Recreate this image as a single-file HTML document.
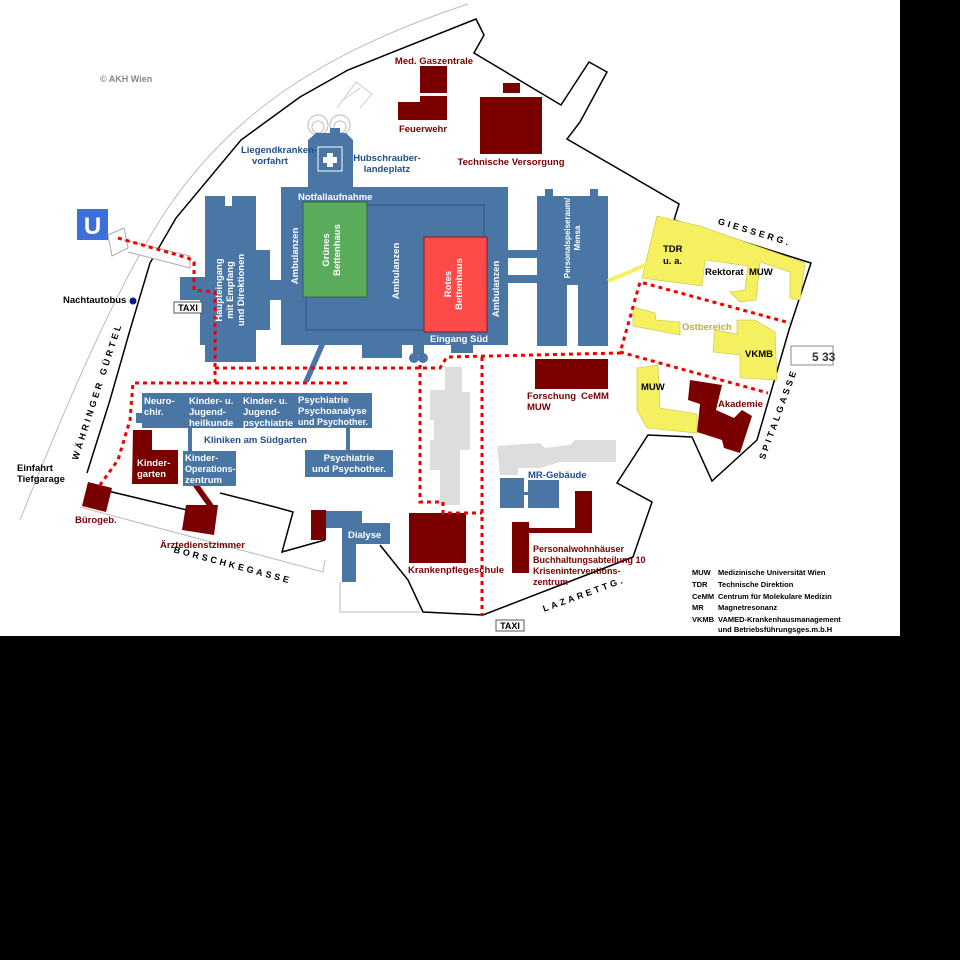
<!DOCTYPE html>
<html><head><meta charset="utf-8"><style>
body{margin:0;background:#000;}
svg{display:block;}
text{font-family:"Liberation Sans",sans-serif;font-weight:bold;}
</style></head><body>
<svg width="960" height="960" viewBox="0 0 960 960" xmlns="http://www.w3.org/2000/svg">
<rect x="0" y="0" width="960" height="960" fill="#000"/>
<rect x="0" y="0" width="900" height="636" fill="#fff"/>

<path d="M468,4 C330,50 230,110 160,220 C110,300 60,420 20,520" fill="none" stroke="#bbb" stroke-width="1"/>
<path d="M80,507 L323,572 L325,560" fill="none" stroke="#bbb" stroke-width="1"/>
<path d="M340,582 L340,612 L420,612" fill="none" stroke="#bbb" stroke-width="1"/>
<path d="M337,108 L356,82 L372,94 L360,108 M343,100 L360,88" fill="none" stroke="#ccc" stroke-width="1"/>
<circle cx="318" cy="125" r="10" fill="none" stroke="#bbb"/><circle cx="340" cy="125" r="10" fill="none" stroke="#bbb"/>
<circle cx="318" cy="127" r="6" fill="none" stroke="#bbb"/><circle cx="340" cy="127" r="6" fill="none" stroke="#bbb"/>

<path d="M130,330 L150,263 L176,218 L241,140 L300,97 L348,70 L476,19 L484,35 L474,53 L561,105 L589,62 L607,72 L580,122 L567,139 L679,204 L674,220 L811,263 L789,330 L757,440 L712,481 L692,437 L648,435 L617,483 L652,502 L633,557 L483,615 L423,612 L408,580 L380,545" fill="none" stroke="#000" stroke-width="1.5"/>
<path d="M130,330 L110,400 L87,473" fill="none" stroke="#000" stroke-width="1.5"/>
<path d="M108,491 L187,510 L185,527 M220,493 L275,507 L293,512 L282,552 L325,540" fill="none" stroke="#000" stroke-width="1.5"/>

<path d="M108,235 L124,228 L128,248 L112,256 Z M124,240 L190,256 L190,268 L128,252" fill="#fff" stroke="#aaa" stroke-width="1"/>
<rect x="77" y="209" width="31" height="31" fill="#3c6fd8"/>
<text x="92.5" y="234" font-size="24" fill="#fff" text-anchor="middle">U</text>

<g fill="#4a76a6">
<path d="M205,196 L225,196 L225,206 L232,206 L232,196 L256,196 L256,250 L270,250 L270,330 L256,330 L256,362 L205,362 L205,345 L200,345 L200,300 L180,300 L180,277 L205,277 Z"/>
<rect x="270" y="280" width="14" height="20"/>
<rect x="281" y="187" width="227" height="158"/>
<path d="M308,180 L308,140 L316,133 L330,133 L330,128 L340,128 L340,133 L346,133 L353,140 L353,180 Z"/>
<rect x="308" y="179" width="45" height="9"/>
<rect x="362" y="345" width="40" height="13"/>
<rect x="413" y="345" width="11" height="10"/><circle cx="414" cy="358" r="5"/><circle cx="423" cy="358" r="5"/>
<rect x="451" y="345" width="22" height="8"/>
<path d="M319,345 L325,345 L309,382 L303,382 Z"/>
<path d="M537,196 L545,196 L545,189 L553,189 L553,196 L590,196 L590,189 L598,189 L598,196 L608,196 L608,346 L578,346 L578,285 L567,285 L567,346 L537,346 Z"/>
<rect x="508" y="250" width="30" height="8"/>
<rect x="508" y="275" width="30" height="8"/>
<rect x="142" y="393" width="230" height="35"/>
<rect x="136" y="413" width="8" height="10"/>
<rect x="188" y="427" width="4" height="25"/>
<rect x="346" y="427" width="4" height="25"/>
<rect x="183" y="451" width="53" height="35"/>
<rect x="305" y="450" width="88" height="27"/>
<rect x="325" y="511" width="37" height="17"/>
<rect x="342" y="522" width="14" height="60"/>
<rect x="355" y="523" width="35" height="21"/>
<rect x="500" y="478" width="24" height="30"/>
<rect x="528" y="480" width="31" height="28"/>
<rect x="522" y="492" width="8" height="3"/>
</g>
<rect x="306" y="205" width="178" height="125" fill="none" stroke="#2f5680" stroke-width="1"/>
<rect x="303" y="202" width="64" height="95" fill="#5aac5c" stroke="#2f5a30" stroke-width="0.8"/>
<rect x="424" y="237" width="63" height="95" fill="#ff4a4a" stroke="#7a1010" stroke-width="0.8"/>
<rect x="318" y="147" width="24" height="24" fill="none" stroke="#fff" stroke-width="1"/>
<path d="M327,153 h6 v4 h4 v6 h-4 v4 h-6 v-4 h-4 v-6 h4 z" fill="#fff"/>

<g fill="#ddd">
<path d="M430,390 L445,390 L445,367 L462,367 L462,392 L470,392 L470,450 L460,450 L460,505 L440,505 L440,470 L430,470 L430,440 L434,440 L434,420 L430,420 Z"/>
<path d="M497,446 L540,443 L545,448 L570,445 L575,440 L616,440 L616,462 L560,462 L540,468 L518,468 L518,475 L500,475 Z"/>
</g>

<g fill="#7a0000">
<rect x="420" y="66" width="27" height="27"/>
<rect x="420" y="96" width="27" height="24"/>
<rect x="398" y="102" width="24" height="18"/>
<rect x="480" y="97" width="62" height="57"/>
<rect x="503" y="83" width="17" height="10"/>
<rect x="535" y="359" width="73" height="30"/>
<path d="M690,380 L722,385 L716,410 L734,418 L742,410 L752,416 L740,453 L724,448 L722,440 L697,432 L700,404 L688,400 Z"/>
<rect x="409" y="513" width="57" height="50"/>
<rect x="512" y="522" width="17" height="51"/>
<rect x="529" y="528" width="46" height="5"/>
<rect x="575" y="491" width="17" height="42"/>
<path d="M133,430 L152,430 L152,450 L178,450 L178,484 L132,484 Z"/>
<path d="M88,482 L112,488 L106,512 L82,506 Z"/>
<path d="M186,505 L218,505 L214,535 L182,530 Z"/>
<rect x="311" y="510" width="15" height="30"/>
<path d="M193,486 L200,486 L215,507 L208,507 Z"/>
</g>

<g fill="#f5f060" stroke="#c8c040" stroke-width="0.6">
<path d="M657,216 L700,226 L805,263 L800,300 L790,298 L790,272 L760,262 L756,300 L740,302 L730,292 L745,290 L748,266 L705,260 L702,286 L642,278 Z"/>
<path d="M633,307 L655,313 L656,320 L680,322 L680,335 L633,326 Z"/>
<path d="M737,320 L755,320 L775,332 L777,380 L740,378 L740,355 L713,352 L715,330 L737,334 Z"/>
<path d="M637,368 L658,365 L660,408 L697,414 L697,433 L647,428 L637,410 Z"/>
</g>
<path d="M608,281 L648,264" stroke="#f5f060" stroke-width="4"/>

<g fill="none" stroke="#e00" stroke-width="3" stroke-dasharray="4,4">
<path d="M118,238 L188,258 L194,262 L194,290 L215,292 L215,383"/>
<path d="M347,383 L133,383 L130,420 L118,460 L100,485"/>
<path d="M215,368 L440,368 L447,357 L620,353 L640,282 L790,323"/>
<path d="M620,352 L768,393"/>
<path d="M482,357 L482,615"/>
<path d="M420,365 L420,502 L443,502 L443,513 L482,513"/>
</g>

<rect x="174" y="302" width="28" height="11" fill="#fff" stroke="#555"/>
<text x="188" y="311" font-size="9" text-anchor="middle" fill="#000">TAXI</text>
<rect x="496" y="620" width="28" height="11" fill="#fff" stroke="#555"/>
<text x="510" y="629" font-size="9" text-anchor="middle" fill="#000">TAXI</text>
<circle cx="133" cy="301" r="3.5" fill="#0a1a80"/>

<rect x="791" y="346" width="42" height="19" fill="#fff" stroke="#888"/>
<text x="812" y="361" font-size="12" font-weight="normal" fill="#333">5 33</text>

<g fill="#fff" font-size="9.5">
<text x="298" y="200">Notfallaufnahme</text>
<text x="430" y="342">Eingang Süd</text>
<text transform="translate(298,256) rotate(-90)" text-anchor="middle">Ambulanzen</text>
<text transform="translate(399,271) rotate(-90)" text-anchor="middle">Ambulanzen</text>
<text transform="translate(499,289) rotate(-90)" text-anchor="middle">Ambulanzen</text>
<text transform="translate(329,250) rotate(-90)" text-anchor="middle">Grünes</text>
<text transform="translate(340,250) rotate(-90)" text-anchor="middle">Bettenhaus</text>
<text transform="translate(451,284) rotate(-90)" text-anchor="middle">Rotes</text>
<text transform="translate(462,284) rotate(-90)" text-anchor="middle">Bettenhaus</text>
<text transform="translate(222,290) rotate(-90)" text-anchor="middle">Haupteingang</text>
<text transform="translate(233,290) rotate(-90)" text-anchor="middle">mit Empfang</text>
<text transform="translate(244,290) rotate(-90)" text-anchor="middle">und Direktionen</text>
<text transform="translate(570,238) rotate(-90)" text-anchor="middle" font-size="8">Personalspeiseraum/</text>
<text transform="translate(580,238) rotate(-90)" text-anchor="middle" font-size="8">Mensa</text>
<text x="144" y="404">Neuro-</text><text x="144" y="415">chir.</text>
<text x="189" y="404">Kinder- u.</text><text x="189" y="415">Jugend-</text><text x="189" y="426">heilkunde</text>
<text x="243" y="404">Kinder- u.</text><text x="243" y="415">Jugend-</text><text x="243" y="426">psychiatrie</text>
<text x="298" y="403">Psychiatrie</text><text x="298" y="414">Psychoanalyse</text><text x="298" y="425" font-size="9">und Psychother.</text>
<text x="349" y="461" text-anchor="middle">Psychiatrie</text><text x="349" y="472" text-anchor="middle">und Psychother.</text>
<text x="185" y="461">Kinder-</text><text x="185" y="472" font-size="9">Operations-</text><text x="185" y="483">zentrum</text>
<text x="137" y="466">Kinder-</text><text x="137" y="477">garten</text>
<text x="348" y="538">Dialyse</text>
</g>

<g fill="#1f4e8c" font-size="9.5">
<text x="279" y="153" text-anchor="middle">Liegendkranken-</text>
<text x="270" y="164" text-anchor="middle">vorfahrt</text>
<text x="387" y="161" text-anchor="middle">Hubschrauber-</text>
<text x="387" y="172" text-anchor="middle">landeplatz</text>
<text x="204" y="443">Kliniken am Südgarten</text>
<text x="528" y="478">MR-Gebäude</text>
</g>

<g fill="#7a0000" font-size="9.5">
<text x="434" y="64" text-anchor="middle">Med. Gaszentrale</text>
<text x="423" y="132" text-anchor="middle">Feuerwehr</text>
<text x="511" y="165" text-anchor="middle">Technische Versorgung</text>
<text x="527" y="399">Forschung</text><text x="581" y="399">CeMM</text>
<text x="527" y="410">MUW</text>
<text x="718" y="407">Akademie</text>
<text x="408" y="573">Krankenpflegeschule</text>
<text x="75" y="523">Bürogeb.</text>
<text x="160" y="548">Ärztedienstzimmer</text>
<text x="533" y="552" font-weight="normal" font-size="9">Personalwohnhäuser</text>
<text x="533" y="563" font-weight="normal" font-size="9">Buchhaltungsabteilung 10</text>
<text x="533" y="574" font-weight="normal" font-size="9">Kriseninterventions-</text>
<text x="533" y="585" font-weight="normal" font-size="9">zentrum</text>
</g>

<g fill="#000" font-size="9.5">
<text x="663" y="252">TDR</text><text x="663" y="264">u. a.</text>
<text x="705" y="275">Rektorat</text><text x="749" y="275">MUW</text>
<text x="745" y="357">VKMB</text>
<text x="641" y="390">MUW</text>
<text x="63" y="303">Nachtautobus</text>
<text x="17" y="471">Einfahrt</text>
<text x="17" y="482">Tiefgarage</text>
</g>
<text x="682" y="330" font-size="9.5" fill="#b8b040">Ostbereich</text>
<text x="100" y="82" font-size="9" font-family="Liberation Serif, serif" font-weight="normal" fill="#888">© AKH Wien</text>

<g fill="#000" font-size="9" letter-spacing="3">
<text transform="translate(100,392) rotate(-72)" text-anchor="middle">WÄHRINGER GÜRTEL</text>
<text transform="translate(232,568) rotate(15)" text-anchor="middle">BORSCHKEGASSE</text>
<text transform="translate(585,597) rotate(-20)" text-anchor="middle">LAZARETTG.</text>
<text transform="translate(781,415) rotate(-70)" text-anchor="middle">SPITALGASSE</text>
<text transform="translate(754,235) rotate(17)" text-anchor="middle">GIESSERG.</text>
</g>

<g fill="#000" font-size="7.5">
<text x="692" y="575">MUW</text><text x="718" y="575">Medizinische Universität Wien</text>
<text x="692" y="587">TDR</text><text x="718" y="587">Technische Direktion</text>
<text x="692" y="599">CeMM</text><text x="718" y="599">Centrum für Molekulare Medizin</text>
<text x="692" y="610">MR</text><text x="718" y="610">Magnetresonanz</text>
<text x="692" y="622">VKMB</text><text x="718" y="622">VAMED-Krankenhausmanagement</text>
<text x="718" y="632">und Betriebsführungsges.m.b.H</text>
</g>
</svg>
</body></html>
